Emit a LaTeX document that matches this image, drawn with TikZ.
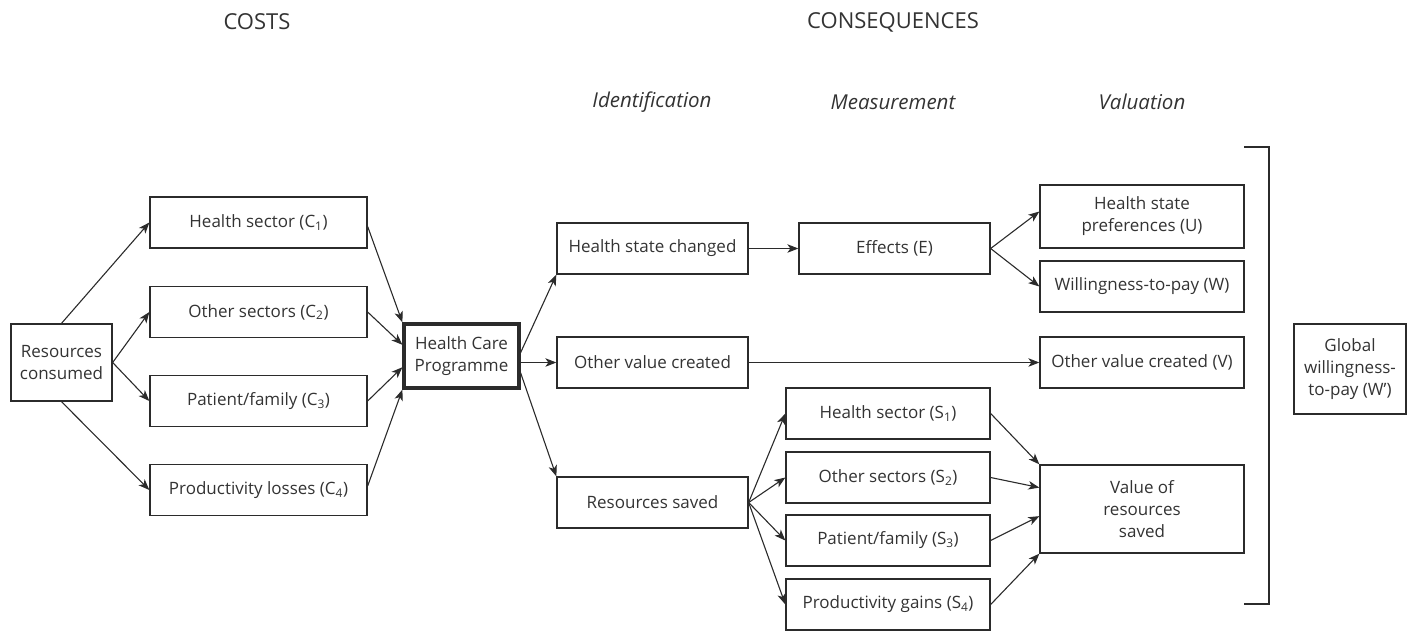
\documentclass[tikz,border=0pt]{standalone}
\usepackage{fontspec}
\setmainfont{Open Sans}
\usetikzlibrary{arrows.meta,calc}
\definecolor{ink}{HTML}{2B2B2B}
\definecolor{txt}{HTML}{333333}
\begin{document}
\begin{tikzpicture}[x=1pt,y=-1pt,
  box/.style={draw=ink, line width=1.3pt, text=txt, align=center, inner sep=0pt,
    font=\fontsize{17}{22}\selectfont},
  thickbox/.style={box, line width=3.2pt},
  arr/.style={draw=ink, line width=1.1pt, -{Stealth[length=11pt,width=8.5pt,inset=3pt]}},
  plain/.style={draw=ink, line width=1.1pt},
  head/.style={text=txt, inner sep=0pt, font=\fontsize{22}{26}\selectfont},
  subhead/.style={text=txt, inner sep=0pt, font=\fontsize{20.5}{24}\selectfont\itshape}]
\useasboundingbox (0,0) rectangle (1408,633);

% headers
\node[head] (costs) at (257,22) {COSTS};
\node[head] (cons) at (893,22) {CONSEQUENCES};
\node[subhead] (ident) at (652,102) {Identification};
\node[subhead] (meas) at (893,102) {Measurement};
\node[subhead] (valu) at (1142,102) {Valuation};

% cost side
\node[box, minimum width=101pt, minimum height=77pt] (rc) at (61.5,362.5) {Resources\\consumed};
\node[box, minimum width=217pt, minimum height=51pt] (c1) at (258.5,222.5) {Health sector (C\textsubscript{1})};
\node[box, minimum width=217pt, minimum height=51pt] (c2) at (258.5,312) {Other sectors (C\textsubscript{2})};
\node[box, minimum width=217pt, minimum height=51pt] (c3) at (258.5,401) {Patient/family (C\textsubscript{3})};
\node[box, minimum width=217pt, minimum height=51pt] (c4) at (258.5,490) {Productivity losses (C\textsubscript{4})};
\node[thickbox, minimum width=115pt, minimum height=64pt] (hcp) at (461.5,356) {Health Care\\Programme};

% identification
\node[box, minimum width=191pt, minimum height=51pt] (hsc) at (652.5,248.5) {Health state changed};
\node[box, minimum width=191pt, minimum height=51pt] (ovc) at (652.5,362.5) {Other value created};
\node[box, minimum width=191pt, minimum height=51pt] (rs) at (652.5,502.5) {Resources saved};

% measurement
\node[box, minimum width=191pt, minimum height=51pt] (eff) at (894.5,248.5) {Effects (E)};
\node[box, minimum width=204pt, minimum height=51pt] (s1) at (888,413.5) {Health sector (S\textsubscript{1})};
\node[box, minimum width=204pt, minimum height=51pt] (s2) at (888,477.5) {Other sectors (S\textsubscript{2})};
\node[box, minimum width=204pt, minimum height=51pt] (s3) at (888,540.5) {Patient/family (S\textsubscript{3})};
\node[box, minimum width=204pt, minimum height=51pt] (s4) at (888,604.5) {Productivity gains (S\textsubscript{4})};

% valuation
\node[box, minimum width=204pt, minimum height=63pt] (u) at (1142,216.5) {Health state\\preferences (U)};
\node[box, minimum width=204pt, minimum height=51pt] (w) at (1142,286.5) {Willingness-to-pay (W)};
\node[box, minimum width=204pt, minimum height=51pt] (v) at (1142,362.5) {Other value created (V)};
\node[box, minimum width=204pt, minimum height=88pt] (val) at (1142,509) {Value of\\resources\\saved};
\node[box, minimum width=112pt, minimum height=90pt] (glob) at (1350,369) {Global\\willingness-\\to-pay (W’)};

% bracket
\draw[plain, line width=1.3pt] (1244,147) -- (1269,147) -- (1269,604) -- (1244,604);

% cost arrows
\draw[arr] (rc.north) -- (c1.west);
\draw[arr] (rc.east) -- (c2.west);
\draw[arr] (rc.east) -- (c3.west);
\draw[arr] (rc.south) -- (c4.west);
\draw[arr] ($(c1.east)+(0,4)$) -- (hcp.north west);
\draw[arr] (c2.east) -- ($(hcp.north west)!0.333!(hcp.south west)$);
\draw[arr] (c3.east) -- ($(hcp.north west)!0.667!(hcp.south west)$);
\draw[arr] ($(c4.east)+(0,-4)$) -- (hcp.south west);

% consequences arrows
\draw[arr] ($(hcp.north east)!0.45!(hcp.south east)$) -- (hsc.south west);
\draw[arr] (hcp.east |- ovc.west) -- (ovc.west);
\draw[arr] ($(hcp.north east)!0.75!(hcp.south east)$) -- (rs.north west);
\draw[arr] (hsc.east) -- (eff.west);
\draw[arr] (ovc.east) -- (v.west);
\draw[arr] (eff.east) -- ($(u.west)+(0,-5)$);
\draw[arr] (eff.east) -- (w.west);
\draw[arr] (rs.east) -- (s1.west);
\draw[arr] (rs.east) -- (s2.west);
\draw[arr] (rs.east) -- (s3.west);
\draw[arr] (rs.east) -- (s4.west);
\draw[arr] (s1.east) -- (val.north west);
\draw[arr] (s2.east) -- ($(val.north west)!0.26!(val.south west)$);
\draw[arr] (s3.east) -- ($(val.north west)!0.58!(val.south west)$);
\draw[arr] (s4.east) -- (val.south west);
\end{tikzpicture}
\end{document}
